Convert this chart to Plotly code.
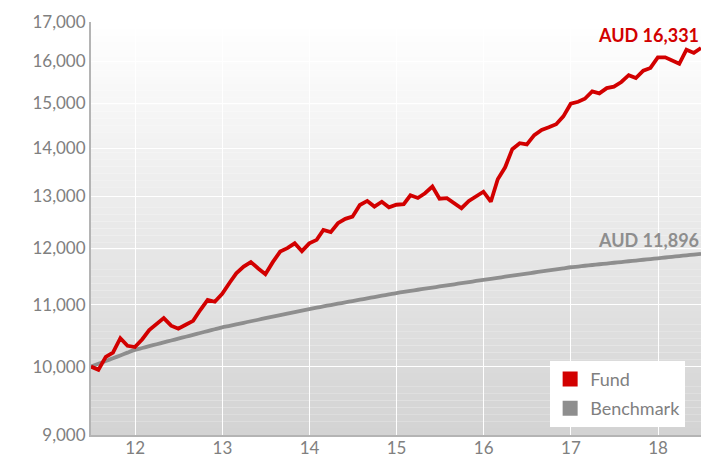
import math
import pandas as pd
import plotly.graph_objects as go

# Monthly month-end values, Jun 2011 .. Jun 2018
start_date = "2011-06-30"
n_points = 85

fund = [10000, 9950, 10152, 10218, 10446, 10325, 10305, 10430, 10578, 10680,
        10775, 10650, 10600, 10665, 10730, 10910, 11080, 11050, 11185, 11378,
        11545, 11665, 11745, 11630, 11530, 11745, 11938, 12000, 12090, 11945,
        12090, 12155, 12340, 12300, 12470, 12555, 12597, 12825, 12906, 12794,
        12890, 12780, 12830, 12840, 13018, 12965, 13060, 13195, 12950, 12960,
        12860, 12762, 12905, 13005, 13090, 12890, 13343, 13592, 13977, 14106,
        14080, 14281, 14396, 14456, 14525, 14700, 14990, 15035, 15105, 15275,
        15230, 15354, 15390, 15500, 15663, 15595, 15772, 15840, 16100, 16100,
        16020, 15940, 16290, 16210, 16331]

benchmark = [10000, 10043, 10086, 10129, 10173, 10217, 10260,
             10290, 10320, 10350, 10380, 10410, 10440, 10470, 10501, 10531, 10562, 10592, 10623,
             10648, 10673, 10698, 10723, 10748, 10774, 10799, 10824, 10850, 10875, 10901, 10926,
             10949, 10971, 10994, 11016, 11039, 11062, 11085, 11107, 11130, 11153, 11176, 11199,
             11218, 11237, 11256, 11275, 11294, 11313, 11332, 11351, 11371, 11390, 11409, 11428,
             11447, 11465, 11484, 11503, 11521, 11540, 11559, 11578, 11597, 11616, 11634, 11653,
             11666, 11680, 11693, 11707, 11720, 11734, 11747, 11761, 11774, 11788, 11801, 11815,
             11829, 11842, 11856, 11869, 11883, 11896]

y_ticks = [9000, 10000, 11000, 12000, 13000, 14000, 15000, 16000, 17000]
series_names = ["Fund", "Benchmark"]
currency = "AUD"

dates = pd.date_range(start_date, periods=n_points, freq="ME")

RED = "#d20000"
GREY = "#8e8e8e"
LABEL = "#808080"
FONT = "Lato, 'Open Sans', sans-serif"
TICK_SIZE = 17

fig = go.Figure()

fig.add_trace(go.Scatter(x=dates, y=benchmark, mode="lines", showlegend=False,
                         line=dict(color=GREY, width=3.8, shape="spline", smoothing=0.6),
                         hoverinfo="skip"))
fig.add_trace(go.Scatter(x=dates, y=fund, mode="lines", showlegend=False,
                         line=dict(color=RED, width=3.8), hoverinfo="skip"))

# legend entries with square swatches
for name, col in zip(series_names, [RED, GREY]):
    fig.add_trace(go.Scatter(x=[None], y=[None], mode="markers", name=name,
                             legendgroup=name,
                             marker=dict(symbol="square", size=15, color=col)))

# vertical gradient background via thin bands
n_bands = 60
top = (255, 255, 255)
bot = (211, 211, 211)
shapes = []
for i in range(n_bands):
    f = (i + 0.5) / n_bands
    c = tuple(round(top[k] + (bot[k] - top[k]) * f) for k in range(3))
    shapes.append(dict(type="rect", xref="paper", yref="paper",
                       x0=0, x1=1, y0=1 - (i + 1) / n_bands, y1=1 - i / n_bands,
                       fillcolor="rgb(%d,%d,%d)" % c, line=dict(width=0),
                       layer="below"))

annotations = [
    dict(x=dates[-1], y=math.log10(fund[-1]), xref="x", yref="y",
         text="<b>%s %s</b>" % (currency, f"{fund[-1]:,}"), showarrow=False,
         xanchor="right", yanchor="middle", yshift=13, xshift=0,
         font=dict(family=FONT, size=18, color=RED)),
    dict(x=dates[-1], y=math.log10(benchmark[-1]), xref="x", yref="y",
         text="<b>%s %s</b>" % (currency, f"{benchmark[-1]:,}"), showarrow=False,
         xanchor="right", yanchor="middle", yshift=14, xshift=0,
         font=dict(family=FONT, size=18, color=GREY)),
]

fig.update_layout(
    width=701, height=456,
    margin=dict(l=91, r=0, t=22, b=21, autoexpand=False),
    paper_bgcolor="white", plot_bgcolor="white",
    font=dict(family=FONT, size=TICK_SIZE, color=LABEL),
    shapes=shapes, annotations=annotations,
    showlegend=True,
    legend=dict(x=0.974, y=0.02, xanchor="right", yanchor="bottom",
                bgcolor="white", borderwidth=0, tracegroupgap=3,
                font=dict(family=FONT, size=18, color=LABEL),
                itemwidth=30),
    xaxis=dict(range=[dates[0], dates[-1]], dtick="M12", tick0="2012-01-01",
               tickformat="%y", showgrid=True, gridcolor="white", gridwidth=1,
               showline=True, linecolor="#b4b4b4", linewidth=2,
               ticks="", zeroline=False, automargin=False, ticklabelstandoff=-3,
               tickfont=dict(family=FONT, size=TICK_SIZE, color=LABEL)),
    yaxis=dict(type="log", range=[math.log10(y_ticks[0]), math.log10(y_ticks[-1])],
               tickvals=y_ticks, ticktext=[f"{v:,}" for v in y_ticks],
               showgrid=True, gridcolor="white", gridwidth=1,
               showline=True, linecolor="#b4b4b4", linewidth=2,
               ticks="", zeroline=False, automargin=False,
               tickfont=dict(family=FONT, size=TICK_SIZE, color=LABEL)),
)

# remove the default page margin so the figure fills the window exactly
fig.write_html("out.html",
               config={"displayModeBar": False},
               post_script="document.body.style.margin='0';"
                           "document.body.style.overflow='hidden';")
